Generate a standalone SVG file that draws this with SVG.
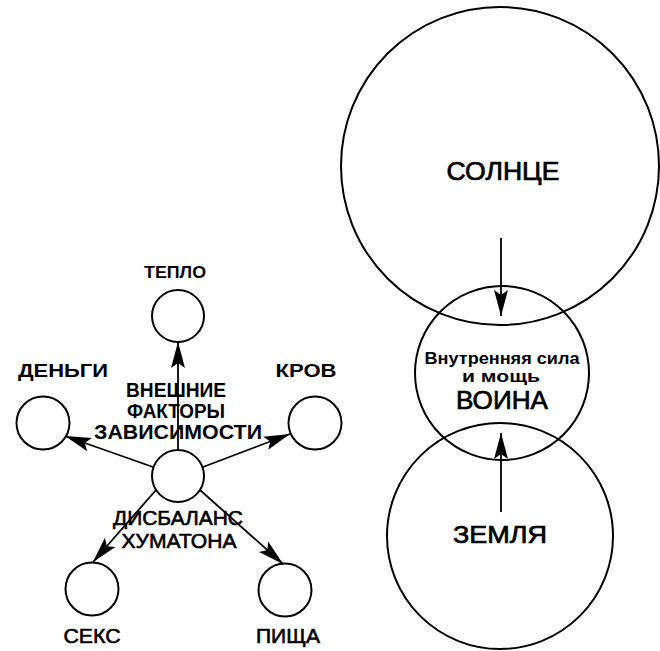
<svg xmlns="http://www.w3.org/2000/svg" width="660" height="651" viewBox="0 0 660 651">
<style>
.c{fill:none;stroke:#000;stroke-width:2}
.l{stroke:#000;stroke-width:1.8;fill:none}
.t{font-family:"Liberation Sans",Arial,sans-serif;font-weight:bold;font-size:20px;text-anchor:middle;fill:#000}
.r{font-family:"Liberation Sans",Arial,sans-serif;font-size:20px;text-anchor:middle;fill:#000;stroke:#000;stroke-width:0.6}
.b{font-family:"Liberation Sans",Arial,sans-serif;font-size:25px;text-anchor:middle;fill:#000;stroke:#000;stroke-width:0.7}
</style>
<defs>
<marker id="ah" markerUnits="userSpaceOnUse" markerWidth="28" markerHeight="15" refX="26" refY="7" orient="auto" viewBox="0 0 28 14">
<path d="M0,0 L26,7 L0,14 L5,7 z" fill="#000"/>
</marker>
</defs>
<rect width="660" height="651" fill="#fff"/>

<g id="connectors">
<line class="l" x1="178" y1="450" x2="178" y2="342" marker-end="url(#ah)"/>
<line class="l" x1="153" y1="467" x2="65" y2="436" marker-end="url(#ah)"/>
<line class="l" x1="203" y1="467" x2="290" y2="434" marker-end="url(#ah)"/>
<line class="l" x1="156" y1="490" x2="93" y2="562" marker-end="url(#ah)"/>
<line class="l" x1="200" y1="490" x2="283" y2="564" marker-end="url(#ah)"/>
<line class="l" x1="501" y1="238" x2="501" y2="316" marker-end="url(#ah)"/>
<line class="l" x1="501" y1="512" x2="501" y2="433" marker-end="url(#ah)"/>
</g>

<g id="center">
<circle class="c" cx="178" cy="476" r="26"/>
<text class="t" x="176" y="397" textLength="100" lengthAdjust="spacingAndGlyphs">ВНЕШНИЕ</text>
<text class="t" x="176" y="418" textLength="98" lengthAdjust="spacingAndGlyphs">ФАКТОРЫ</text>
<text class="t" x="178" y="439" textLength="168" lengthAdjust="spacingAndGlyphs">ЗАВИСИМОСТИ</text>
<text class="r" x="178" y="525" textLength="130" lengthAdjust="spacingAndGlyphs">ДИСБАЛАНС</text>
<text class="r" x="179" y="548" textLength="115" lengthAdjust="spacingAndGlyphs">ХУМАТОНА</text>
</g>

<g id="teplo">
<circle class="c" cx="178" cy="316" r="26"/>
<text class="t" x="175" y="278" style="font-size:17px" textLength="62" lengthAdjust="spacingAndGlyphs">ТЕПЛО</text>
</g>

<g id="dengi">
<circle class="c" cx="43" cy="423" r="26.5"/>
<text class="t" x="63" y="377" style="font-size:19px" textLength="90" lengthAdjust="spacingAndGlyphs">ДЕНЬГИ</text>
</g>

<g id="krov">
<circle class="c" cx="315" cy="423" r="26.5"/>
<text class="t" x="306" y="377" style="font-size:19px" textLength="61" lengthAdjust="spacingAndGlyphs">КРОВ</text>
</g>

<g id="seks">
<circle class="c" cx="92" cy="589" r="26.5"/>
<text class="r" x="92" y="643" textLength="57" lengthAdjust="spacingAndGlyphs">СЕКС</text>
</g>

<g id="pishcha">
<circle class="c" cx="285" cy="590" r="26.5"/>
<text class="r" x="288" y="643" textLength="64" lengthAdjust="spacingAndGlyphs">ПИЩА</text>
</g>

<g id="solntse">
<circle class="c" cx="500" cy="166" r="159"/>
<text class="b" x="503" y="180" textLength="113" lengthAdjust="spacingAndGlyphs">СОЛНЦЕ</text>
</g>

<g id="voina">
<circle class="c" cx="502" cy="373" r="87"/>
<text class="t" x="502" y="364" style="font-size:17px" textLength="155" lengthAdjust="spacingAndGlyphs">Внутренняя сила</text>
<text class="t" x="501" y="382" style="font-size:17px" textLength="78" lengthAdjust="spacingAndGlyphs">и мощь</text>
<text class="b" x="502" y="409" style="font-size:26px" textLength="92" lengthAdjust="spacingAndGlyphs">ВОИНА</text>
</g>

<g id="zemlya">
<circle class="c" cx="500" cy="536" r="113"/>
<text class="b" x="500" y="543" style="font-size:24px" textLength="94" lengthAdjust="spacingAndGlyphs">ЗЕМЛЯ</text>
</g>
</svg>
